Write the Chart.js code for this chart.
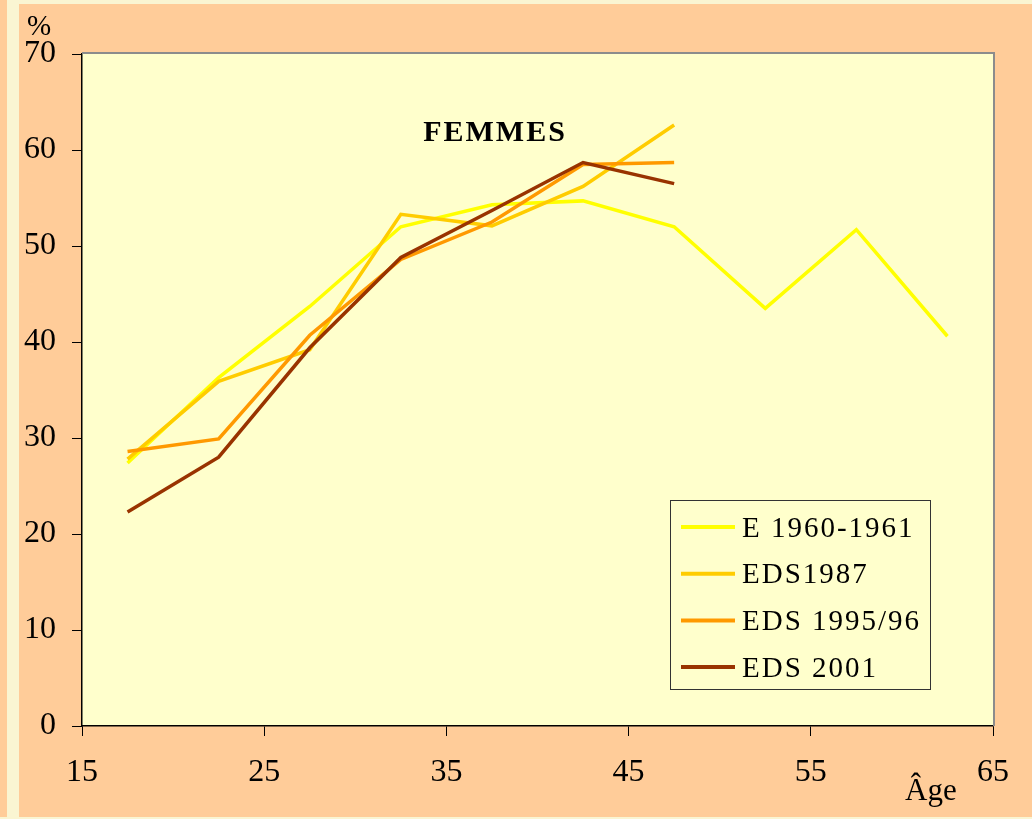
<!DOCTYPE html>
<html>
<head>
<meta charset="utf-8">
<script src="https://cdn.jsdelivr.net/npm/chart.js@4/dist/chart.umd.min.js"></script>
<style>
  html, body { margin: 0; padding: 0; background: #FFCC99; }
  #wrap { width: 1032px; height: 819px; position: relative; }
</style>
</head>
<body>
<div id="wrap"><canvas id="chart" width="1032" height="819"></canvas></div>
<script>
"use strict";

const AGES = [17.5, 22.5, 27.5, 32.5, 37.5, 42.5, 47.5, 52.5, 57.5, 62.5];

const E_1960 = [27.4, 36.3, 43.7, 52.0, 54.3, 54.7, 52.0, 43.5, 51.7, 40.6];
const EDS_1987 = [27.8, 35.9, 39.2, 53.3, 52.1, 56.2, 62.6];
const EDS_1995 = [28.6, 29.9, 40.7, 48.6, 52.5, 58.5, 58.7];
const EDS_2001 = [22.3, 28.0, 39.4, 48.8, 53.7, 58.7, 56.5];

const SERIES_LABELS = ["E 1960-1961", "EDS1987", "EDS 1995/96", "EDS 2001"];
const SERIES_COLORS = ["#FFFF00", "#FFCC00", "#FF9900", "#993300"];

const X_TICKS = [15, 25, 35, 45, 55, 65];
const Y_TICKS = [0, 10, 20, 30, 40, 50, 60, 70];

const FONT = "'Liberation Serif', 'Times New Roman', serif";

function toPoints(values) {
  return values.map((v, i) => ({ x: AGES[i], y: v }));
}

const backdrop = {
  id: "backdrop",
  beforeDraw(chart) {
    const { ctx, width, height, chartArea: a } = chart;
    ctx.save();
    ctx.fillStyle = "#FFCC99";
    ctx.fillRect(0, 0, width, height);
    ctx.fillStyle = "#FAF5D2";
    ctx.fillRect(7, 0, 12, height);
    ctx.fillRect(7, 0, width, 4);
    ctx.fillRect(0, height - 2, width, 2);
    ctx.fillStyle = "#FFFFCC";
    ctx.fillRect(a.left, a.top, a.right - a.left, a.bottom - a.top);
    ctx.restore();
  },
  afterDraw(chart) {
    const { ctx, chartArea: a } = chart;
    const spacing = "letterSpacing" in ctx;
    ctx.save();
    // grey frame on top and right
    ctx.strokeStyle = "#8C8C8C";
    ctx.lineWidth = 2;
    ctx.beginPath();
    ctx.moveTo(a.left, a.top - 1);
    ctx.lineTo(a.right + 1, a.top - 1);
    ctx.lineTo(a.right + 1, a.bottom);
    ctx.stroke();

    // texts
    ctx.fillStyle = "#000";
    ctx.textBaseline = "alphabetic";
    ctx.textAlign = "left";
    ctx.font = "29px " + FONT;
    ctx.fillText("%", 27, 35);
    ctx.font = "31px " + FONT;
    ctx.fillText("Âge", 905, 800);

    ctx.font = "bold 30px " + FONT;
    ctx.textAlign = "center";
    if (spacing) ctx.letterSpacing = "2px";
    ctx.fillText("FEMMES", 495, 141);

    // legend
    const bx = 670, by = 500, bw = 260, bh = 189;
    ctx.fillStyle = "#FFFFCC";
    ctx.fillRect(bx, by, bw, bh);
    ctx.strokeStyle = "#333";
    ctx.lineWidth = 1;
    ctx.strokeRect(bx + 0.5, by + 0.5, bw, bh);
    ctx.font = "29px " + FONT;
    if (spacing) ctx.letterSpacing = "2px";
    ctx.textAlign = "left";
    ctx.textBaseline = "middle";
    chart.data.datasets.forEach((ds, i) => {
      const y = 527 + i * 46.7;
      ctx.strokeStyle = ds.borderColor;
      ctx.lineWidth = 4;
      ctx.beginPath();
      ctx.moveTo(681, y);
      ctx.lineTo(735, y);
      ctx.stroke();
      ctx.fillStyle = "#000";
      ctx.fillText(ds.label, 742, y + 2);
    });
    if (spacing) ctx.letterSpacing = "0px";
    ctx.restore();
  },
};

new Chart(document.getElementById("chart"), {
  type: "line",
  data: {
    datasets: [E_1960, EDS_1987, EDS_1995, EDS_2001].map((vals, i) => ({
      label: SERIES_LABELS[i],
      data: toPoints(vals),
      borderColor: SERIES_COLORS[i],
      backgroundColor: SERIES_COLORS[i],
      borderWidth: 3.5,
      pointRadius: 0,
      tension: 0,
      order: 4 - i,
    })),
  },
  options: {
    responsive: false,
    animation: false,
    layout: { padding: { top: 54, right: 39, left: 0, bottom: 0 } },
    plugins: {
      legend: { display: false },
      tooltip: { enabled: false },
      title: { display: false },
    },
    scales: {
      x: {
        type: "linear",
        min: 15,
        max: 65,
        afterBuildTicks: (s) => { s.ticks = X_TICKS.map((v) => ({ value: v })); },
        afterFit: (s) => { s.height = 93; },
        grid: { drawOnChartArea: false, tickLength: 10, color: "#000", tickWidth: 1 },
        border: { color: "#000", width: 1.5 },
        ticks: { color: "#000", padding: 17, maxRotation: 0, font: { family: FONT, size: 32 } },
      },
      y: {
        min: 0,
        max: 70,
        afterBuildTicks: (s) => { s.ticks = Y_TICKS.map((v) => ({ value: v })); },
        afterFit: (s) => { s.width = 82; },
        grid: { drawOnChartArea: false, tickLength: 10, color: "#000", tickWidth: 1 },
        border: { color: "#000", width: 1.5 },
        ticks: { color: "#000", padding: 16, font: { family: FONT, size: 32 } },
      },
    },
  },
  plugins: [backdrop],
});
</script>
</body>
</html>
